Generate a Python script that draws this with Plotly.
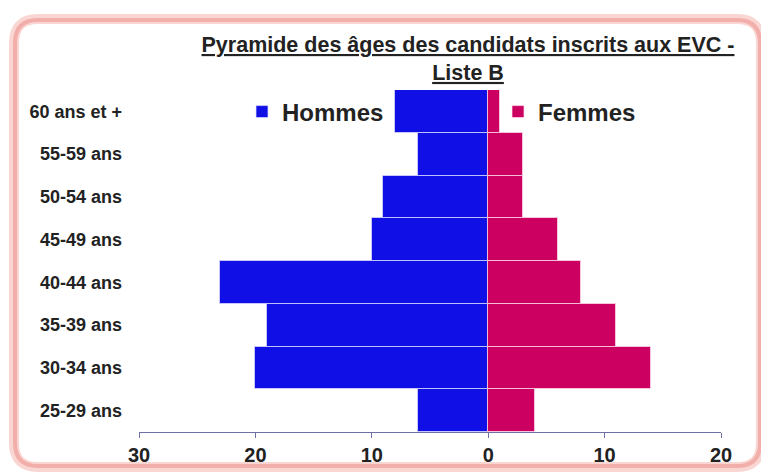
import plotly.graph_objects as go

categories = ["25-29 ans", "30-34 ans", "35-39 ans", "40-44 ans",
              "45-49 ans", "50-54 ans", "55-59 ans", "60 ans et +"]
hommes = [6, 20, 19, 23, 10, 9, 6, 8]
femmes = [4, 14, 11, 8, 6, 3, 3, 1]
tick_vals = [-30, -20, -10, 0, 10, 20]
tick_text = ["30", "20", "10", "0", "10", "20"]

# the page body adds an 8px offset; the figure is sized/positioned to compensate
OFF = 8
W, H = 769 - OFF, 472 - OFF
L, R, T, B = 139 - OFF, 48, 90 - OFF, 40
PW, PH = W - L - R, H - T - B

def px(x):
    return (x - OFF - L) / PW

def py(y):
    return 1 - (y - OFF - T) / PH

def rounded_rect(x0, y0, x1, y1, r):
    pts = []
    pts.append(f"M {px(x0 + r)},{py(y0)}")
    pts.append(f"L {px(x1 - r)},{py(y0)}")
    pts.append(f"Q {px(x1)},{py(y0)} {px(x1)},{py(y0 + r)}")
    pts.append(f"L {px(x1)},{py(y1 - r)}")
    pts.append(f"Q {px(x1)},{py(y1)} {px(x1 - r)},{py(y1)}")
    pts.append(f"L {px(x0 + r)},{py(y1)}")
    pts.append(f"Q {px(x0)},{py(y1)} {px(x0)},{py(y1 - r)}")
    pts.append(f"L {px(x0)},{py(y0 + r)}")
    pts.append(f"Q {px(x0)},{py(y0)} {px(x0 + r)},{py(y0)}")
    pts.append("Z")
    return " ".join(pts)

FONT = "Arial, Liberation Sans, sans-serif"

fig = go.Figure()
fig.add_trace(go.Bar(
    y=categories, x=[-v for v in hommes], orientation="h", name="Hommes",
    marker=dict(color="#1010e6", line=dict(color="rgba(225,225,255,0.7)", width=1)),
    customdata=hommes, hovertemplate="%{y}: %{customdata}<extra>Hommes</extra>",
))
fig.add_trace(go.Bar(
    y=categories, x=femmes, orientation="h", name="Femmes",
    marker=dict(color="#cc0060", line=dict(color="rgba(255,225,240,0.7)", width=1)),
    hovertemplate="%{y}: %{x}<extra>Femmes</extra>",
))

fig.add_shape(type="path", xref="paper", yref="paper",
              path=rounded_rect(14, 19, 761, 467, 24),
              line=dict(color="#fad6d3", width=10), layer="below")
fig.add_shape(type="path", xref="paper", yref="paper",
              path=rounded_rect(15, 20, 760, 466, 23),
              line=dict(color="#f2aeaa", width=4), layer="below")

fig.update_layout(
    width=W, height=H,
    margin=dict(l=L, r=R, t=T, b=B, autoexpand=False),
    paper_bgcolor="white", plot_bgcolor="white",
    barmode="relative", bargap=0,
    font=dict(family=FONT, color="#222222"),
    title=dict(
        text="<b><u>Pyramide des âges des candidats inscrits aux EVC -</u></b><br><b><u>Liste B</u></b>",
        xref="paper", yref="container",
        x=px(468), xanchor="center", y=1 - (52 - OFF) / H, yanchor="middle",
        font=dict(size=21.5, family=FONT, color="#222222"),
    ),
    xaxis=dict(
        range=[-30, 20], tickvals=tick_vals, ticktext=tick_text,
        showgrid=False, zeroline=False, showline=True, linecolor="#7070a8", linewidth=1,
        ticks="outside", ticklen=5, tickcolor="#7070a8",
        tickfont=dict(size=20, family=FONT, color="#222222", weight="bold"),
        fixedrange=True,
    ),
    yaxis=dict(
        showgrid=False, zeroline=False, showline=False,
        ticklabelstandoff=16,
        tickfont=dict(size=18, family=FONT, color="#222222", weight="bold"),
        fixedrange=True,
    ),
    legend=dict(
        orientation="h", x=px(242), xanchor="left", y=py(112), yanchor="middle",
        font=dict(size=24, family=FONT, color="#222222", weight="bold"),
        entrywidth=211, entrywidthmode="pixels", itemwidth=30,
        bgcolor="rgba(0,0,0,0)",
    ),
    showlegend=True,
)

fig.write_html("out.html")
